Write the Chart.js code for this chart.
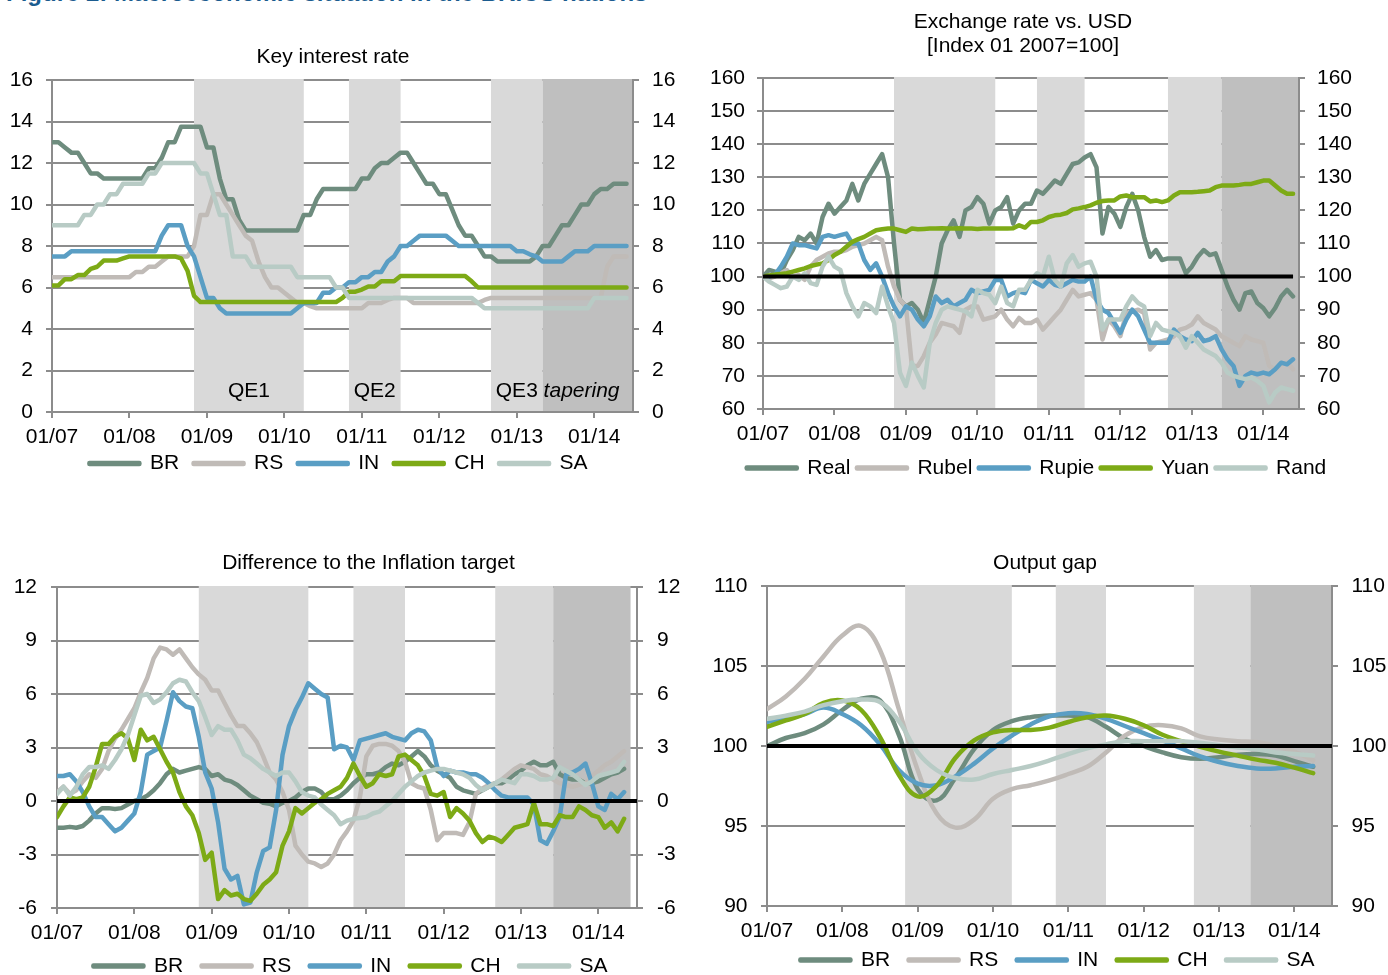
<!DOCTYPE html>
<html lang="en">
<head>
<meta charset="utf-8">
<title>Macroeconomic situation in the BRICS nations</title>
<script src="https://cdn.jsdelivr.net/npm/chart.js@4.4.1/dist/chart.umd.min.js"></script>
<style>
  html, body { margin: 0; padding: 0; background: #fff; width: 1388px; height: 975px; overflow: hidden; }
  body { position: relative; }
  canvas { position: absolute; }
  #figureTitle { position: absolute; left: 6px; top: -19.5px; margin: 0; font: bold 24px/24px "Liberation Sans", Arial, sans-serif; color: #1B5C8F; white-space: nowrap; }
</style>
</head>
<body>
<h1 id="figureTitle">Figure 2: Macroeconomic situation in the BRICS nations</h1>
<canvas id="rates" width="690" height="498" style="left:0;top:0"></canvas>
<canvas id="fx" width="688" height="487" style="left:700px;top:0"></canvas>
<canvas id="inflation" width="690" height="501" style="left:0;top:500px"></canvas>
<canvas id="gap" width="688" height="496" style="left:700px;top:500px"></canvas>
<script>
// ---------- axis labels and series names ----------
const tickLabels = ['01/07', '01/08', '01/09', '01/10', '01/11', '01/12', '01/13', '01/14'];
const countryNames = ['BR', 'RS', 'IN', 'CH', 'SA'];
const currencyNames = ['Real', 'Rubel', 'Rupie', 'Yuan', 'Rand'];

// ---------- Fed programmes, months since 01/2007 (last entry = tapering) ----------
const bandNames = ['QE1', 'QE2', 'QE3', 'tapering'];
const rateBandStart = [22, 46, 68, 76];
const rateBandEnd   = [39, 54, 76, 90];
const fxBandStart   = [22, 46, 68, 77];
const fxBandEnd     = [39, 54, 77, 90];
const inflBandStart = [22, 46, 68, 77];
const inflBandEnd   = [39, 54, 77, 89];
const gapBandStart  = [22, 46, 68, 77];
const gapBandEnd    = [39, 54, 77, 90];

// ---------- Key interest rate, monthly from 01/2007 ----------
const rateBR = [13,13,12.75,12.5,12.5,12,11.5,11.5,11.25,11.25,
  11.25,11.25,11.25,11.25,11.25,11.75,11.75,12.25,13,13,
  13.75,13.75,13.75,13.75,12.75,12.75,11.25,10.25,10.25,9.25,
  8.75,8.75,8.75,8.75,8.75,8.75,8.75,8.75,8.75,9.5,
  9.5,10.25,10.75,10.75,10.75,10.75,10.75,10.75,11.25,11.25,
  11.75,12,12,12.25,12.5,12.5,12,11.5,11,11,
  10.5,10.5,9.75,9,8.5,8.5,8,7.5,7.5,7.25,
  7.25,7.25,7.25,7.25,7.25,7.5,8,8,8.5,9,
  9,9.5,10,10,10.5,10.75,10.75,11,11,11];
const rateRS = [6.5,6.5,6.5,6.5,6.5,6.5,6.5,6.5,6.5,6.5,
  6.5,6.5,6.5,6.75,6.75,7,7,7.25,7.5,7.5,
  7.5,7.5,8,9.5,9.5,10.5,10.5,10,9.5,9,
  8.5,8.25,7.25,6.5,6,6,5.75,5.5,5.25,5.25,
  5.1,5,5,5,5,5,5,5,5,5.25,
  5.25,5.25,5.4,5.5,5.5,5.5,5.25,5.25,5.25,5.25,
  5.25,5.25,5.25,5.25,5.25,5.25,5.25,5.4,5.5,5.5,
  5.5,5.5,5.5,5.5,5.5,5.5,5.5,5.5,5.5,5.5,
  5.5,5.5,5.5,5.5,5.5,5.5,7,7.5,7.5,7.5];
const rateIN = [7.5,7.5,7.5,7.75,7.75,7.75,7.75,7.75,7.75,7.75,
  7.75,7.75,7.75,7.75,7.75,7.75,7.75,8.5,9,9,
  9,8,7.5,6.5,5.5,5.5,5,4.75,4.75,4.75,
  4.75,4.75,4.75,4.75,4.75,4.75,4.75,4.75,5,5.25,
  5.25,5.25,5.75,5.75,6,6,6.25,6.25,6.5,6.5,
  6.75,6.75,7.25,7.5,8,8,8.25,8.5,8.5,8.5,
  8.5,8.5,8.25,8,8,8,8,8,8,8,
  8,8,7.75,7.75,7.6,7.5,7.25,7.25,7.25,7.25,
  7.5,7.75,7.75,7.75,8,8,8,8,8,8];
const rateCH = [6.1,6.1,6.4,6.4,6.6,6.6,6.9,7,7.3,7.3,
  7.3,7.4,7.5,7.5,7.5,7.5,7.5,7.5,7.5,7.5,
  7.4,6.8,5.6,5.3,5.3,5.3,5.3,5.3,5.3,5.3,
  5.3,5.3,5.3,5.3,5.3,5.3,5.3,5.3,5.3,5.3,
  5.3,5.3,5.3,5.3,5.3,5.5,5.8,5.8,5.9,6.05,
  6.05,6.3,6.3,6.3,6.55,6.55,6.55,6.55,6.55,6.55,
  6.55,6.55,6.55,6.55,6.55,6.3,6,6,6,6,
  6,6,6,6,6,6,6,6,6,6,
  6,6,6,6,6,6,6,6,6,6];
const rateSA = [9,9,9,9,9,9.5,9.5,10,10,10.5,
  10.5,11,11,11,11,11.5,11.5,12,12,12,
  12,12,12,11.5,11.5,10.5,9.5,9.5,7.5,7.5,
  7.5,7,7,7,7,7,7,7,6.5,6.5,
  6.5,6.5,6.5,6.5,6,6,5.5,5.5,5.5,5.5,
  5.5,5.5,5.5,5.5,5.5,5.5,5.5,5.5,5.5,5.5,
  5.5,5.5,5.5,5.5,5.5,5.5,5.25,5,5,5,
  5,5,5,5,5,5,5,5,5,5,
  5,5,5,5,5.5,5.5,5.5,5.5,5.5,5.5];

// ---------- Exchange rate vs. USD, index 01/2007 = 100, monthly ----------
const fxReal = [100,102,101.5,101,105,108,112,111,113,110,
  118,122,119,121,123,128,123,128,131,134,
  137,130,110,93,91,92,90,86,93,100,
  110,114,117,112,120,121,124,122,116,120,
  121,124,116,120,122,122,126,125,127,129,
  128,131,134,134.5,136,137,133,113,121,119,
  115,121,125,120,112,106,108,105,105.5,105.5,
  105.5,101,103,106,108,106.5,107,102,97,93,
  90,95,95.5,92,90.5,88,90.5,94,96,94];
const fxRubel = [100,99.5,100,101,102,100,100.5,99,103,105,
  106,107,107.5,107.5,108,109,109.5,110,111,112,
  111,103,97,93,91,73,73,76,80,82.5,
  86,85.5,85,83,90,91,91,87,87.5,88,
  90,87,85,87.5,86,86,87,84,86,88,
  90,93,96,94,94.5,95,93,81,87,85,
  82,89,89.5,90,89,78,80,80.5,81,82,
  84,84.5,85.5,88,86,85,84,82,81,80,
  79,82,81,80.5,80,73,72,73.5,74,72];
const fxRupie = [100,100,100.5,103,106,110,109.5,109.5,109,108.5,
  112,112.5,112,112.5,113,110,110,105,102,104,
  100,95,91,88,91,90,87,85,88,94,
  92,93,91,92,93,96,95,95.5,96,99,
  99,94,95,95.5,95,99,98,97,99,97.5,
  97,98,99,98.5,98.5,100,93,90,89,86,
  83,87,90,88,84,80,80,80,80,84,
  82,81,80.5,83,80.5,81,82,78,75,73,
  67,70,71,70.5,71,70.5,72,74,73.5,75];
const fxYuan = [100,100.3,100.6,100.8,101,101.5,102,102.5,103.2,103.6,
  104,105,106.5,107.5,109,110.5,111.3,112,113,114,
  114.3,114.5,114.5,114,113.5,114.5,114.3,114.4,114.5,114.5,
  114.6,114.5,114.5,114.6,114.5,114.5,114.4,114.5,114.5,114.5,
  114.5,114.5,114.6,115.5,114.8,116.5,116.5,117,118,118.5,
  118.7,119.2,120.3,120.6,121,121.5,122.3,122.8,123,123,
  124.2,124.5,124,124,124,122.7,123,122.5,123,124.5,
  125.5,125.5,125.5,125.6,125.8,126,127,127.5,127.5,127.5,
  127.7,128,128,128.5,129,129,127.5,126,125,125];
const fxRand = [100,98.5,97.5,96.5,97,100,99,101,98,97.5,
  103,106,103,102,95,91,88,92,91,89,
  97,91,86,71,67,74,70,66.5,80,86,
  90,91,90.5,90,89.5,88,96,95,94.5,92,
  97,92,91,96,96,99,101,100,106,99,
  97,104,106.5,103,104,104.5,100,84,87,87,
  87,91,94,92,91,82,86,84,83.5,83,
  82,78.5,82,80,78,77,76,74,71,70,
  69.5,69,69.5,68.5,67,62,65,66.5,66,65.5];
const fxParity = 100;
const fxParitySpan = [0, 89];

// ---------- Difference to the inflation target (pp), monthly ----------
const inflBR = [-1.5,-1.5,-1.45,-1.5,-1.4,-1.1,-0.7,-0.4,-0.4,-0.45,
  -0.4,-0.2,0,0.1,0.3,0.6,1.0,1.5,1.8,1.6,
  1.7,1.8,1.9,1.8,1.4,1.5,1.2,1.1,0.9,0.6,
  0.3,0.1,-0.1,-0.15,-0.3,-0.1,0,0.2,0.5,0.7,
  0.7,0.5,0.1,0.1,0.3,0.6,1.0,1.3,1.5,1.5,
  1.6,1.9,2.1,2.0,2.2,2.5,2.8,2.5,2.0,1.7,
  1.5,1.3,0.8,0.6,0.5,0.4,0.6,0.8,1.0,1.0,
  1.2,1.5,1.7,2.0,2.2,2.0,2.0,2.2,1.5,1.3,
  1.2,1.2,1.0,1.0,1.1,1.3,1.5,1.6,1.8];
const inflRS = [0.5,0.8,0.4,0.6,1.1,1.5,1.3,1.8,2.8,3.5,
  4.0,4.6,5.2,6.1,6.9,8.0,8.6,8.5,8.2,8.5,
  8.0,7.5,7.1,6.8,6.2,6.2,5.5,4.8,4.2,4.2,
  3.8,3.3,2.5,1.6,1.2,0.5,-0.5,-2.5,-3.0,-3.4,
  -3.5,-3.7,-3.5,-3.0,-2.2,-1.7,-1.1,0.2,2.5,3.1,
  3.2,3.2,3.1,2.8,2.2,1.0,0.8,0.7,-0.5,-2.2,
  -1.8,-1.8,-1.8,-1.9,-1.2,0.4,0.7,0.9,1.0,1.2,
  1.5,1.8,2.0,1.9,1.8,1.5,1.4,1.2,1.0,0.9,
  0.8,0.9,1.0,1.4,1.7,2.0,2.2,2.5,2.8];
const inflIN = [1.4,1.4,1.5,1.1,0.5,-0.3,-0.9,-0.9,-1.3,-1.7,
  -1.5,-1.1,-0.7,0.5,2.6,2.8,3.0,4.5,6.1,5.6,
  5.3,5.2,3.6,1.6,0.7,-1.2,-3.8,-4.4,-4.2,-5.8,
  -5.7,-4.0,-2.8,-2.6,-0.5,2.6,4.2,5.1,5.8,6.6,
  6.3,6.0,5.8,2.9,3.1,3.0,2.3,3.4,3.5,3.6,
  3.7,3.8,3.6,3.5,3.4,3.8,4.0,3.9,3.4,1.9,
  1.4,1.7,1.6,1.6,1.5,1.5,1.3,1.0,0.6,0.3,
  0.2,0.2,0.2,0.2,-0.2,-2.2,-2.4,-1.7,-0.9,1.5,
  1.6,1.8,2.1,1.0,-0.3,-0.5,0.4,0.1,0.5];
const inflCH = [-0.9,-0.3,0.2,0.1,0.2,0.8,1.9,3.2,3.2,3.6,
  3.8,3.5,2.3,4.0,3.4,3.6,2.9,2.2,1.6,0.5,
  -0.3,-0.8,-1.8,-3.3,-2.9,-5.5,-5.0,-5.3,-5.2,-5.5,
  -5.6,-5.2,-4.7,-4.4,-4.0,-2.5,-1.7,-0.4,-0.7,-0.4,
  -0.1,0.1,0.4,0.6,0.8,1.3,2.1,1.4,0.8,1.0,
  1.5,1.4,1.5,2.5,2.6,2.3,2.0,1.4,0.4,0.3,
  0.5,-0.9,-0.4,-0.7,-1.1,-1.8,-2.3,-2.0,-2.1,-2.3,
  -1.9,-1.5,-1.4,-1.3,-0.1,-1.3,-1.3,-1.4,-0.8,-0.9,
  -0.9,-0.3,-0.5,-0.8,-0.9,-1.5,-1.2,-1.7,-1.0];
const inflSA = [0.4,0.8,0.3,0.8,1.5,1.9,1.9,2.0,1.8,2.3,
  2.9,3.7,4.8,5.9,6.0,5.5,5.7,6.1,6.6,6.8,
  6.7,6.1,5.6,4.7,3.7,4.2,4.0,4.0,3.4,2.6,
  2.4,2.1,1.8,1.6,1.4,1.6,1.6,1.1,0.5,0.3,
  0.2,-0.2,-0.5,-0.8,-1.3,-1.1,-1.0,-0.95,-0.9,-0.7,
  -0.6,-0.3,0.0,0.4,0.8,1.1,1.4,1.6,1.7,1.8,
  1.8,1.7,1.6,1.5,1.3,0.9,0.6,0.8,1.0,1.2,
  1.1,1.0,1.5,1.5,1.4,1.2,1.2,1.3,1.9,1.7,
  1.5,1.2,0.9,1.1,1.4,1.5,1.6,1.7,2.2];
const inflTarget = 0;
const inflTargetSpan = [0, 90];

// ---------- Output gap (potential = 100), quarterly ----------
const gapMonths = [0,3,6,9,12,15,18,21,24,27,30,33,36,39,42,45,48,51,54,57,60,63,66,69,72,75,78,81,84,87];
const gapBR = [100.0,100.5,100.8,101.35,102.25,102.95,102.85,100.7,97.3,96.6,98.0,99.8,101.0,101.55,101.8,101.9,101.9,101.8,101.2,100.45,100.0,99.6,99.3,99.2,99.3,99.45,99.5,99.4,99.05,98.7];
const gapRS = [102.3,103.1,104.2,105.6,106.9,107.5,106.0,102.3,98.5,95.8,94.9,95.4,96.7,97.3,97.55,97.85,98.25,98.7,99.6,100.65,101.2,101.3,101.1,100.6,100.4,100.3,100.25,100.0,99.65,99.1];
const gapIN = [101.5,101.7,102.0,102.4,102.0,101.3,100.1,98.5,97.65,97.55,98.1,98.9,99.85,100.65,101.35,101.85,102.05,102.0,101.7,101.25,100.8,100.35,99.85,99.35,99.0,98.75,98.6,98.6,98.7,98.75];
const gapCH = [101.2,101.6,102.0,102.7,102.85,102.25,100.55,98.2,96.85,97.5,99.25,100.35,100.85,101.0,101.0,101.15,101.5,101.8,101.9,101.7,101.3,100.7,100.3,99.95,99.65,99.4,99.15,98.95,98.65,98.3];
const gapSA = [101.7,101.9,102.15,102.55,102.8,102.9,102.75,101.55,99.6,98.5,98.0,97.9,98.25,98.5,98.75,99.1,99.5,99.85,100.1,100.3,100.3,100.3,100.3,100.2,100.05,99.9,99.8,99.6,99.5,99.4];
const gapNeutral = 100;
const gapNeutralSpan = [0, 90];

// ---------- styling ----------
const FONT = '"Liberation Sans", Arial, Helvetica, sans-serif';
const TEXT = '#000000';
const AXIS_GREY = '#8C8C8C';
const BAND_LIGHT = '#D9D9D9';
const BAND_DARK = '#BFBFBF';
const SERIES_COLORS = ['#6E8C7E', '#C0BBB7', '#5A9EC4', '#7DAA16', '#B8CBC5'];
const X_AXIS_HEIGHT = 40;

Chart.defaults.font.family = FONT;
Chart.defaults.font.size = 21;
Chart.defaults.color = TEXT;

// Shaded Fed periods, drawn above the grid and below the lines
const bandPlugin = {
  id: 'qeBands',
  beforeDatasetsDraw(chart, args, opts) {
    const { ctx, chartArea: area, scales } = chart;
    const xs = scales.x, ys = scales.y;
    const last = opts.start.length - 1;
    ctx.save();
    opts.start.forEach((from, i) => {
      const x0 = xs.getPixelForValue(from);
      const x1 = Math.min(xs.getPixelForValue(opts.end[i]), area.right - 1);
      ctx.fillStyle = i === last ? BAND_DARK : BAND_LIGHT;
      ctx.fillRect(x0, area.top - 1, x1 - x0, area.bottom - area.top);
    });
    if (opts.showNames) {
      const y = ys.getPixelForValue(opts.nameLevel);
      ctx.fillStyle = TEXT;
      ctx.textBaseline = 'middle';
      opts.start.forEach((from, i) => {
        if (i === last) {
          ctx.font = 'italic 21px ' + FONT;
          ctx.textAlign = 'left';
          ctx.fillText(opts.names[i], xs.getPixelForValue(from) + 1, y);
        } else {
          ctx.font = '21px ' + FONT;
          ctx.textAlign = 'center';
          ctx.fillText(opts.names[i], xs.getPixelForValue((from + opts.end[i]) / 2), y);
        }
      });
    }
    ctx.restore();
  }
};

// Shifts the title and legend boxes after layout so they sit off-centre
const nudgePlugin = {
  id: 'boxNudge',
  afterLayout(chart, args, opts) {
    const t = chart.titleBlock;
    const l = chart.legend;
    if (t) { t.left += opts.titleDx; t.right += opts.titleDx; }
    if (l) { l.left += opts.legendDx; l.right += opts.legendDx; l.top += opts.legendDy; l.bottom += opts.legendDy; }
  }
};

function toPoints(values, xs) {
  return values.map((v, j) => ({ x: xs ? xs[j] : j, y: v }));
}

function seriesSet(names, seriesValues, xs, smooth) {
  return names.map((name, i) => ({
    label: name,
    data: toPoints(seriesValues[i], xs),
    borderColor: SERIES_COLORS[i],
    backgroundColor: SERIES_COLORS[i],
    borderWidth: 4.5,
    borderCapStyle: 'round',
    borderJoinStyle: 'round',
    pointRadius: 0,
    pointHoverRadius: 0,
    tension: smooth ? 0.4 : 0,
    order: names.length - i
  }));
}

function referenceLine(level, span) {
  return {
    label: '',
    data: [{ x: span[0], y: level }, { x: span[1], y: level }],
    borderColor: '#000000',
    backgroundColor: '#000000',
    borderWidth: 4,
    borderCapStyle: 'butt',
    pointRadius: 0,
    pointHoverRadius: 0,
    order: 0
  };
}

function makeChart(canvasId, spec) {
  const grid = { color: AXIS_GREY, lineWidth: 2, tickLength: 6, drawTicks: true };
  const border = { display: true, color: AXIS_GREY, width: 2 };
  const yTicks = { stepSize: spec.yStep, padding: spec.yPad, color: TEXT, font: { size: 21 }, autoSkip: false };
  // chart bottom sits at: canvas height - padBottom - legend height - x axis height
  const legendHeight = 21 + spec.legendPad + 10;
  const canvas = document.getElementById(canvasId);
  const padBottom = canvas.height - spec.plotBottom - X_AXIS_HEIGHT - legendHeight;
  const naturalLegendMid = spec.plotBottom + X_AXIS_HEIGHT + spec.legendPad + 10.5;
  return new Chart(canvas, {
    type: 'line',
    data: { datasets: spec.datasets },
    plugins: [bandPlugin, nudgePlugin],
    options: {
      responsive: false,
      animation: false,
      devicePixelRatio: 1,
      events: [],
      layout: { padding: { left: 0, right: 0, top: 0, bottom: padBottom } },
      scales: {
        x: {
          type: 'linear', position: 'bottom', min: 0, max: 90,
          afterFit: s => { s.height = X_AXIS_HEIGHT; },
          grid: Object.assign({}, grid, { drawOnChartArea: false }),
          border,
          ticks: {
            stepSize: 12, includeBounds: false, autoSkip: false, maxRotation: 0, minRotation: 0,
            padding: 6.5, color: TEXT, font: { size: 21 },
            callback: v => tickLabels[Math.round(v / 12)]
          }
        },
        y: {
          type: 'linear', position: 'left', min: spec.yMin, max: spec.yMax,
          afterFit: s => { s.width = spec.leftAxisWidth; },
          grid, border, ticks: yTicks
        },
        y2: {
          type: 'linear', position: 'right', min: spec.yMin, max: spec.yMax,
          afterFit: s => { s.width = spec.rightAxisWidth; },
          grid: Object.assign({}, grid, { drawOnChartArea: false }),
          border, ticks: yTicks
        }
      },
      plugins: {
        title: {
          display: true, text: spec.title, color: TEXT,
          font: { size: 21, weight: 'normal', lineHeight: spec.titleLineHeight },
          padding: { top: spec.titleTop, bottom: spec.titleBottom }
        },
        legend: {
          position: 'bottom',
          labels: {
            boxWidth: 50, boxHeight: 1, padding: spec.legendPad, color: TEXT, font: { size: 21 },
            filter: item => item.text !== '',
            sort: (a, b) => a.datasetIndex - b.datasetIndex
          }
        },
        tooltip: { enabled: false },
        qeBands: {
          start: spec.bandStart, end: spec.bandEnd, names: bandNames,
          showNames: !!spec.showBandNames, nameLevel: spec.bandNameLevel
        },
        boxNudge: {
          titleDx: spec.titleDx, legendDx: spec.legendDx, legendDy: spec.legendMid - naturalLegendMid
        }
      }
    }
  });
}

// Key interest rate
makeChart('rates', {
  datasets: seriesSet(countryNames, [rateBR, rateRS, rateIN, rateCH, rateSA]),
  title: 'Key interest rate', titleLineHeight: 1.2, titleTop: 45, titleBottom: 9.8,
  legendPad: 14.5, titleDx: -12, legendDx: -6.5, legendMid: 463.5, plotBottom: 412,
  yMin: 0, yMax: 16, yStep: 2, yPad: 13,
  leftAxisWidth: 52, rightAxisWidth: 57,
  bandStart: rateBandStart, bandEnd: rateBandEnd, showBandNames: true, bandNameLevel: 1
});

// Exchange rate vs. USD
makeChart('fx', {
  datasets: [referenceLine(fxParity, fxParitySpan)].concat(
    seriesSet(currencyNames, [fxReal, fxRubel, fxRupie, fxYuan, fxRand])),
  title: ['Exchange rate vs. USD', '[Index 01 2007=100]'], titleLineHeight: 1.13,
  titleTop: 10.6, titleBottom: 19.9,
  legendPad: 6.5, titleDx: -21, legendDx: -7.5, legendMid: 468, plotBottom: 409,
  yMin: 60, yMax: 160, yStep: 10, yPad: 12,
  leftAxisWidth: 63, rightAxisWidth: 89,
  bandStart: fxBandStart, bandEnd: fxBandEnd
});

// Difference to the inflation target
makeChart('inflation', {
  datasets: [referenceLine(inflTarget, inflTargetSpan)].concat(
    seriesSet(countryNames, [inflBR, inflRS, inflIN, inflCH, inflSA])),
  title: 'Difference to the Inflation target', titleLineHeight: 1.2,
  titleTop: 50.4, titleBottom: 11.4,
  legendPad: 18.5, titleDx: 23.5, legendDx: 5.5, legendMid: 466, plotBottom: 408,
  yMin: -6, yMax: 12, yStep: 3, yPad: 14,
  leftAxisWidth: 57, rightAxisWidth: 53,
  bandStart: inflBandStart, bandEnd: inflBandEnd
});

// Output gap
makeChart('gap', {
  datasets: [referenceLine(gapNeutral, gapNeutralSpan)].concat(
    seriesSet(countryNames, [gapBR, gapRS, gapIN, gapCH, gapSA], gapMonths, true)),
  title: 'Output gap', titleLineHeight: 1.2, titleTop: 50.4, titleBottom: 10.4,
  legendPad: 18.5, titleDx: 1, legendDx: 13.5, legendMid: 460, plotBottom: 406,
  yMin: 90, yMax: 110, yStep: 5, yPad: 13.5,
  leftAxisWidth: 67, rightAxisWidth: 56,
  bandStart: gapBandStart, bandEnd: gapBandEnd
});
</script>
</body>
</html>
